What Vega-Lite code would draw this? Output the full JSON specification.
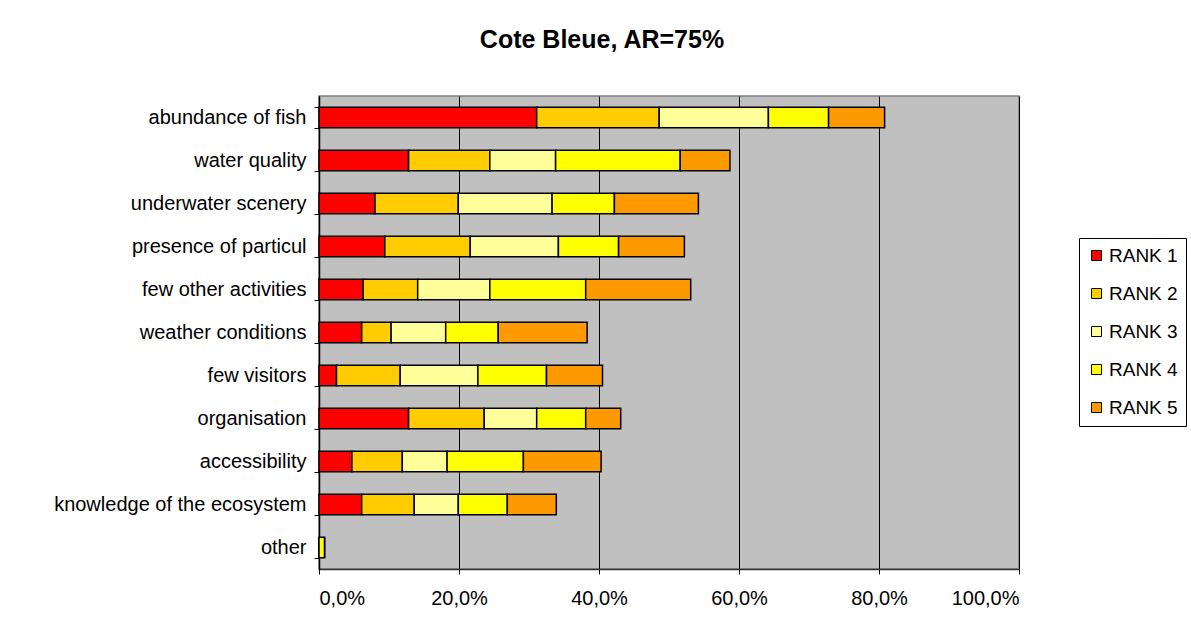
{
  "$schema": "https://vega.github.io/schema/vega-lite/v6.json",
  "width": 700,
  "height": 473,
  "autosize": "none",
  "padding": {"left": 319, "top": 96, "right": 172, "bottom": 67},
  "background": "white",
  "title": {
    "text": "Cote Bleue, AR=75%",
    "font": "Liberation Sans",
    "fontSize": 25,
    "fontWeight": "bold",
    "color": "black",
    "anchor": "middle",
    "dx": -67,
    "offset": 33
  },
  "data": {
    "values": [
      {"item": "abundance of fish", "rank": "RANK 1", "r": 1, "pct": 31.1},
      {"item": "abundance of fish", "rank": "RANK 2", "r": 2, "pct": 17.5},
      {"item": "abundance of fish", "rank": "RANK 3", "r": 3, "pct": 15.6},
      {"item": "abundance of fish", "rank": "RANK 4", "r": 4, "pct": 8.6},
      {"item": "abundance of fish", "rank": "RANK 5", "r": 5, "pct": 8.0},
      {"item": "water quality", "rank": "RANK 1", "r": 1, "pct": 12.8},
      {"item": "water quality", "rank": "RANK 2", "r": 2, "pct": 11.6},
      {"item": "water quality", "rank": "RANK 3", "r": 3, "pct": 9.4},
      {"item": "water quality", "rank": "RANK 4", "r": 4, "pct": 17.8},
      {"item": "water quality", "rank": "RANK 5", "r": 5, "pct": 7.1},
      {"item": "underwater scenery", "rank": "RANK 1", "r": 1, "pct": 8.0},
      {"item": "underwater scenery", "rank": "RANK 2", "r": 2, "pct": 11.9},
      {"item": "underwater scenery", "rank": "RANK 3", "r": 3, "pct": 13.4},
      {"item": "underwater scenery", "rank": "RANK 4", "r": 4, "pct": 8.9},
      {"item": "underwater scenery", "rank": "RANK 5", "r": 5, "pct": 12.0},
      {"item": "presence of particul", "rank": "RANK 1", "r": 1, "pct": 9.4},
      {"item": "presence of particul", "rank": "RANK 2", "r": 2, "pct": 12.2},
      {"item": "presence of particul", "rank": "RANK 3", "r": 3, "pct": 12.6},
      {"item": "presence of particul", "rank": "RANK 4", "r": 4, "pct": 8.6},
      {"item": "presence of particul", "rank": "RANK 5", "r": 5, "pct": 9.4},
      {"item": "few other activities", "rank": "RANK 1", "r": 1, "pct": 6.3},
      {"item": "few other activities", "rank": "RANK 2", "r": 2, "pct": 7.8},
      {"item": "few other activities", "rank": "RANK 3", "r": 3, "pct": 10.3},
      {"item": "few other activities", "rank": "RANK 4", "r": 4, "pct": 13.7},
      {"item": "few other activities", "rank": "RANK 5", "r": 5, "pct": 15.0},
      {"item": "weather conditions", "rank": "RANK 1", "r": 1, "pct": 6.1},
      {"item": "weather conditions", "rank": "RANK 2", "r": 2, "pct": 4.2},
      {"item": "weather conditions", "rank": "RANK 3", "r": 3, "pct": 7.8},
      {"item": "weather conditions", "rank": "RANK 4", "r": 4, "pct": 7.5},
      {"item": "weather conditions", "rank": "RANK 5", "r": 5, "pct": 12.7},
      {"item": "few visitors", "rank": "RANK 1", "r": 1, "pct": 2.5},
      {"item": "few visitors", "rank": "RANK 2", "r": 2, "pct": 9.1},
      {"item": "few visitors", "rank": "RANK 3", "r": 3, "pct": 11.1},
      {"item": "few visitors", "rank": "RANK 4", "r": 4, "pct": 9.8},
      {"item": "few visitors", "rank": "RANK 5", "r": 5, "pct": 8.0},
      {"item": "organisation", "rank": "RANK 1", "r": 1, "pct": 12.8},
      {"item": "organisation", "rank": "RANK 2", "r": 2, "pct": 10.8},
      {"item": "organisation", "rank": "RANK 3", "r": 3, "pct": 7.5},
      {"item": "organisation", "rank": "RANK 4", "r": 4, "pct": 7.0},
      {"item": "organisation", "rank": "RANK 5", "r": 5, "pct": 5.0},
      {"item": "accessibility", "rank": "RANK 1", "r": 1, "pct": 4.7},
      {"item": "accessibility", "rank": "RANK 2", "r": 2, "pct": 7.2},
      {"item": "accessibility", "rank": "RANK 3", "r": 3, "pct": 6.4},
      {"item": "accessibility", "rank": "RANK 4", "r": 4, "pct": 10.9},
      {"item": "accessibility", "rank": "RANK 5", "r": 5, "pct": 11.1},
      {"item": "knowledge of the ecosystem", "rank": "RANK 1", "r": 1, "pct": 6.1},
      {"item": "knowledge of the ecosystem", "rank": "RANK 2", "r": 2, "pct": 7.5},
      {"item": "knowledge of the ecosystem", "rank": "RANK 3", "r": 3, "pct": 6.3},
      {"item": "knowledge of the ecosystem", "rank": "RANK 4", "r": 4, "pct": 7.0},
      {"item": "knowledge of the ecosystem", "rank": "RANK 5", "r": 5, "pct": 7.0},
      {"item": "other", "rank": "RANK 1", "r": 1, "pct": 0},
      {"item": "other", "rank": "RANK 2", "r": 2, "pct": 0},
      {"item": "other", "rank": "RANK 3", "r": 3, "pct": 0},
      {"item": "other", "rank": "RANK 4", "r": 4, "pct": 0.8},
      {"item": "other", "rank": "RANK 5", "r": 5, "pct": 0}
    ]
  },
  "mark": {"type": "bar", "stroke": "black", "strokeWidth": 1.5},
  "encoding": {
    "y": {
      "field": "item",
      "type": "nominal",
      "sort": null,
      "title": null,
      "scale": {"paddingInner": 0.52, "paddingOuter": 0.26},
      "axis": {
        "labelFont": "Liberation Sans",
        "labelFontSize": 20,
        "labelColor": "black",
        "labelPadding": 8,
        "labelLimit": 400,
        "tickBand": "extent",
        "tickColor": "black",
        "tickSize": 5,
        "domainColor": "black",
        "domainWidth": 1.5
      }
    },
    "x": {
      "field": "pct",
      "type": "quantitative",
      "stack": "zero",
      "title": null,
      "scale": {"domain": [0, 100], "nice": false},
      "axis": {
        "values": [0, 20, 40, 60, 80, 100],
        "labelExpr": "replace(format(datum.value, '.1f'), '.', ',') + '%'",
        "labelFont": "Liberation Sans",
        "labelFontSize": 20,
        "labelColor": "black",
        "labelPadding": 14,
        "tickColor": "black",
        "tickSize": 5,
        "domainColor": "#333333",
        "domainWidth": 1.5,
        "grid": true,
        "gridColor": "black",
        "gridWidth": 1
      }
    },
    "color": {
      "field": "rank",
      "type": "nominal",
      "title": null,
      "scale": {
        "domain": ["RANK 1", "RANK 2", "RANK 3", "RANK 4", "RANK 5"],
        "range": ["#FF0000", "#FFCC00", "#FFFF99", "#FFFF00", "#FF9900"]
      },
      "legend": {
        "orient": "none",
        "legendX": 760,
        "legendY": 142,
        "padding": 8,
        "strokeColor": "black",
        "fillColor": "white",
        "symbolType": "square",
        "symbolSize": 100,
        "symbolStrokeColor": "black",
        "symbolStrokeWidth": 1,
        "symbolOpacity": 1,
        "labelFont": "Liberation Sans",
        "labelFontSize": 19,
        "labelColor": "black",
        "rowPadding": 18,
        "labelOffset": 3
      }
    },
    "order": {"field": "r", "type": "quantitative"}
  },
  "config": {
    "view": {"fill": "#C0C0C0", "stroke": "#808080", "strokeWidth": 1.5}
  }
}
